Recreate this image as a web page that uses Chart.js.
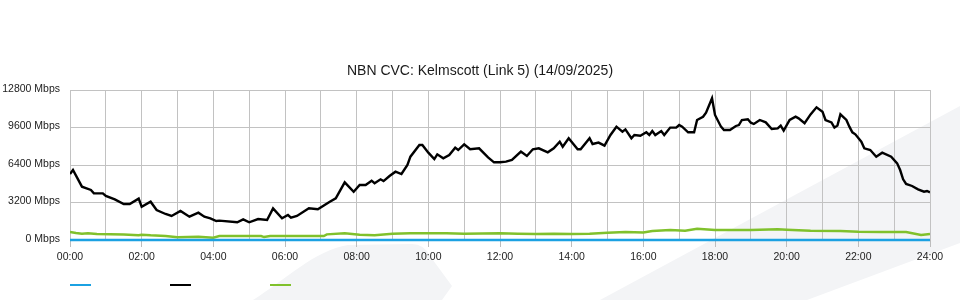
<!DOCTYPE html>
<html>
<head>
<meta charset="utf-8">
<title>NBN CVC: Kelmscott (Link 5)</title>
<script src="https://cdn.jsdelivr.net/npm/chart.js@4.4.1/dist/chart.umd.min.js"></script>
<style>
  html, body { margin: 0; padding: 0; background: #fff; }
  #wrap { width: 960px; height: 300px; }
</style>
</head>
<body>
<div id="wrap"><canvas id="cvc" width="960" height="300"></canvas></div>
<script>
// values (Mbps)
const blueTimes = ["00:00", "06:00", "12:00", "18:00", "24:00"];
const blueValues = [0, 0, 0, 0, 0];

const blackTimes = [
  "00:00", "00:05", "00:20", "00:35", "00:40", "00:55", "01:00", "01:15", "01:30", "01:40",
  "01:55", "02:00", "02:15", "02:25", "02:40", "02:50", "03:05", "03:20", "03:35", "03:45",
  "03:55", "04:05", "04:10", "04:40", "04:50", "05:00", "05:15", "05:30", "05:40", "05:55",
  "06:05", "06:10", "06:20", "06:40", "06:55", "07:15", "07:25", "07:40", "07:55", "08:05",
  "08:15", "08:25", "08:30", "08:40", "08:45", "08:55", "09:05", "09:15", "09:25", "09:30",
  "09:45", "09:50", "10:00", "10:10", "10:15", "10:25", "10:35", "10:45", "10:50", "11:00",
  "11:10", "11:25", "11:40", "11:50", "12:00", "12:10", "12:20", "12:35", "12:45", "12:55",
  "13:05", "13:20", "13:30", "13:40", "13:45", "13:55", "14:10", "14:15", "14:30", "14:35",
  "14:45", "14:55", "15:05", "15:15", "15:25", "15:30", "15:40", "15:45", "15:55", "16:05",
  "16:10", "16:15", "16:20", "16:30", "16:35", "16:45", "16:55", "17:00", "17:05", "17:15",
  "17:25", "17:30", "17:40", "17:45", "17:55", "18:00", "18:10", "18:15", "18:25", "18:35",
  "18:40", "18:45", "18:55", "19:00", "19:05", "19:15", "19:25", "19:35", "19:45", "19:50",
  "19:55", "20:05", "20:15", "20:20", "20:30", "20:40", "20:50", "21:00", "21:05", "21:15",
  "21:20", "21:25", "21:30", "21:40", "21:45", "21:50", "21:55", "22:05", "22:10", "22:20",
  "22:30", "22:40", "22:55", "23:05", "23:10", "23:15", "23:20", "23:30", "23:40", "23:50",
  "23:55", "24:00"
];
const blackValues = [
  5630, 5970, 4550, 4270, 3980, 3980, 3760, 3470, 3070, 3070,
  3530, 2840, 3270, 2560, 2220, 2050, 2480, 1990, 2330, 1990,
  1850, 1620, 1650, 1510, 1760, 1510, 1790, 1710, 2700, 1850,
  2130, 1910, 2050, 2700, 2620, 3270, 3560, 4920, 4120, 4690,
  4690, 5060, 4840, 5180, 5030, 5460, 5830, 5630, 6400, 7110,
  8110, 8110, 7450, 6910, 7310, 6970, 7250, 7880, 7680, 8160,
  7740, 7820, 7050, 6630, 6630, 6690, 6830, 7540, 7170, 7740,
  7820, 7480, 7820, 8390, 7960, 8680, 7740, 7740, 8680, 8190,
  8310, 8050, 8960, 9670, 9240, 9440, 8680, 8960, 8900, 9190,
  8960, 9300, 8960, 9300, 8960, 9590, 9590, 9810, 9670, 9190,
  9190, 10240, 10520, 10870, 12090, 10670, 9670, 9390, 9390, 9730,
  9810, 10240, 10300, 10010, 9900, 10240, 10040, 9470, 9530, 9760,
  9330, 10240, 10520, 10380, 9960, 10720, 11320, 10950, 10240, 10040,
  9590, 9760, 10720, 10240, 9670, 9190, 9020, 8390, 7820, 7680,
  7110, 7450, 7110, 6540, 5970, 5180, 4780, 4610, 4320, 4120,
  4180, 4070
];

const greenTimes = [
  "00:00", "00:10", "00:20", "00:30", "00:45", "01:30", "01:55", "02:00", "02:15", "02:40",
  "03:00", "03:35", "04:00", "04:10", "05:20", "05:25", "05:35", "07:05", "07:10", "07:40",
  "08:05", "08:30", "09:00", "09:30", "10:30", "11:00", "12:00", "12:30", "13:00", "13:30",
  "14:00", "14:30", "15:00", "15:30", "16:00", "16:15", "16:45", "17:10", "17:30", "18:00",
  "19:00", "19:45", "20:00", "20:40", "21:30", "22:00", "22:40", "23:20", "23:45", "24:00"
];
const greenValues = [
  690, 600, 540, 570, 510, 470, 400, 455, 400, 340,
  230, 285, 200, 340, 340, 250, 340, 340, 480, 570,
  455, 400, 540, 570, 570, 540, 570, 540, 510, 540,
  510, 540, 620, 680, 640, 770, 850, 800, 960, 860,
  860, 910, 880, 780, 770, 710, 680, 680, 430, 510
];

const yTicks = [0, 3200, 6400, 9600, 12800];

function toHours(t) {
  return +t.slice(0, 2) + +t.slice(3) / 60;
}
function toPoints(times, values) {
  return times.map((t, i) => ({ x: toHours(t), y: values[i] }));
}
function pad(n) {
  return (n < 10 ? "0" : "") + n;
}

// vẽ mảng nền xám nhạt phía sau
const backdrop = {
  id: "backdrop",
  beforeDraw(chart) {
    const ctx = chart.ctx;
    ctx.save();
    ctx.fillStyle = "#f3f4f6";
    ctx.beginPath();
    ctx.moveTo(253, 300);
    ctx.bezierCurveTo(285, 280, 315, 250, 348, 245);
    ctx.lineTo(412, 244);
    ctx.quadraticCurveTo(424, 244, 430, 256);
    ctx.lineTo(452, 286);
    ctx.lineTo(442, 300);
    ctx.closePath();
    ctx.fill();
    ctx.beginPath();
    ctx.moveTo(600, 300);
    ctx.lineTo(960, 106);
    ctx.lineTo(960, 243);
    ctx.lineTo(807, 300);
    ctx.closePath();
    ctx.fill();
    ctx.restore();
  },
};

// chú thích chỉ có vạch màu, không chữ
const lineLegend = {
  id: "lineLegend",
  afterDraw(chart) {
    const ctx = chart.ctx;
    ctx.save();
    ctx.lineWidth = 2;
    chart.data.datasets.forEach((ds, i) => {
      const x = chart.chartArea.left + i * 100;
      ctx.strokeStyle = ds.borderColor;
      ctx.beginPath();
      ctx.moveTo(x, 285);
      ctx.lineTo(x + 21, 285);
      ctx.stroke();
    });
    ctx.restore();
  },
};

const font = { family: "'Liberation Sans', Arial, sans-serif", size: 10.5 };
const gridColor = "#c2c2c2";

const chart = new Chart(document.getElementById("cvc"), {
  type: "line",
  data: {
    datasets: [
      {
        label: "",
        data: toPoints(blueTimes, blueValues),
        borderColor: "#1ba1e2",
        borderWidth: 2.5,
        pointRadius: 0,
        tension: 0,
        clip: false,
      },
      {
        label: "",
        data: toPoints(blackTimes, blackValues),
        borderColor: "#000000",
        borderWidth: 2.4,
        pointRadius: 0,
        tension: 0,
      },
      {
        label: "",
        data: toPoints(greenTimes, greenValues),
        borderColor: "#80c12c",
        borderWidth: 2.5,
        pointRadius: 0,
        tension: 0,
      },
    ],
  },
  options: {
    responsive: false,
    animation: false,
    layout: { padding: 0 },
    plugins: {
      legend: { display: false },
      tooltip: { enabled: false },
      title: {
        display: true,
        text: "NBN CVC: Kelmscott (Link 5) (14/09/2025)",
        color: "#1a1a1a",
        font: { family: font.family, size: 14, weight: "normal", lineHeight: 1.2 },
        padding: { top: 63, bottom: 10.2 },
      },
    },
    scales: {
      x: {
        type: "linear",
        min: 0,
        max: 24,
        afterFit(scale) {
          scale.height = 60;
        },
        border: { display: false },
        grid: {
          color: gridColor,
          lineWidth: 1,
          tickLength: 7,
          tickColor: (ctx) => (ctx.tick && ctx.tick.value % 2 === 0 ? "#bdbdbd" : "rgba(0,0,0,0)"),
        },
        ticks: {
          stepSize: 1,
          autoSkip: false,
          maxRotation: 0,
          padding: 4,
          color: "#222",
          font: font,
          callback: (v) => (v % 2 === 0 ? pad(v) + ":00" : ""),
        },
      },
      y: {
        min: 0,
        max: 12800,
        afterFit(scale) {
          scale.width = 70;
        },
        afterBuildTicks(scale) {
          scale.ticks = yTicks.map((v) => ({ value: v }));
        },
        border: { display: false },
        grid: { color: gridColor, lineWidth: 1, drawTicks: false },
        ticks: {
          padding: 10,
          labelOffset: -1,
          color: "#222",
          font: font,
          callback: (v) => v + " Mbps",
        },
      },
      // khoảng trống bên phải để tiêu đề nằm giữa trang
      spacer: {
        position: "right",
        afterFit(scale) {
          scale.width = 30;
        },
        border: { display: false },
        grid: { display: false },
        ticks: { display: false },
      },
    },
  },
  plugins: [backdrop, lineLegend],
});
</script>
</body>
</html>
